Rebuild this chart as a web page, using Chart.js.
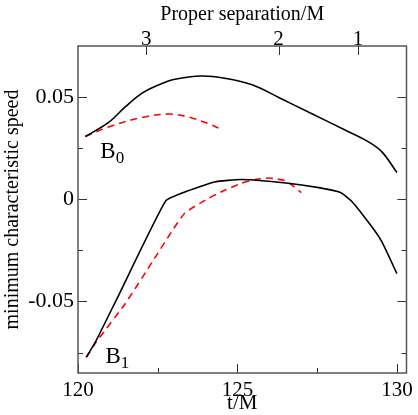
<!DOCTYPE html>
<html>
<head>
<meta charset="utf-8">
<script src="https://cdn.jsdelivr.net/npm/chart.js@4/dist/chart.umd.min.js"></script>
<style>
  html, body { margin: 0; padding: 0; background: #fff; }
  #wrap { position: relative; width: 418px; height: 415px; }
</style>
</head>
<body>
<div id="wrap"><canvas id="c" width="418" height="415"></canvas></div>
<script>
// t/M values and minimum characteristic speed
const b0SolidT = [120.23, 120.96, 121.48, 122.0, 122.52, 123.04, 123.87, 124.6, 125.48, 126.31, 127.35, 128.39, 129.11, 129.53, 130.0];
const b0SolidV = [0.0307, 0.0376, 0.0452, 0.0518, 0.0559, 0.0587, 0.0603, 0.0592, 0.0559, 0.0497, 0.0417, 0.0338, 0.0281, 0.0232, 0.0131];

const b0DashT = [120.23, 120.96, 122.0, 122.83, 123.45, 124.07, 124.49];
const b0DashV = [0.0307, 0.0354, 0.0400, 0.0417, 0.0403, 0.0371, 0.0343];

const b1SolidT = [120.26, 120.57, 121.27, 122.75, 123.35, 124.28, 125.12, 126.52, 127.55, 128.23, 128.6, 129.22, 129.53, 130.0];
const b1SolidV = [-0.0773, -0.0691, -0.0471, -0.0008, 0.0036, 0.0085, 0.0097, 0.0080, 0.0057, 0.0033, -0.0013, -0.0136, -0.0209, -0.0364];

const b1DashT = [120.26, 120.57, 121.48, 122.36, 122.93, 123.35, 124.07, 124.6, 125.12, 125.6, 126.0, 126.52, 127.0];
const b1DashV = [-0.0773, -0.0699, -0.0511, -0.0299, -0.0160, -0.0067, 0.0003, 0.0044, 0.0078, 0.0098, 0.0104, 0.0090, 0.0033];

// top axis: proper separation ticks, placed at their t/M positions
const sepLabels = ["3", "2", "1"];
const sepAtT = [122.14, 126.29, 128.78];

const xTicks = [120, 125, 130];
const xMinor = [122.5, 127.5];
const yTicks = [-0.05, 0, 0.05];
const yMinor = [-0.075, -0.025, 0.025];

const curveLabels = [
  { main: "B", sub: "0", t: 120.70, v: 0.0204 },
  { main: "B", sub: "1", t: 120.86, v: -0.0800 },
];

const toPts = (ts, vs) => ts.map((t, i) => ({ x: t, y: vs[i] }));
const serif = "'Liberation Serif', 'DejaVu Serif', serif";

// ticks pointing inward, on all four sides like the original
const innerTicks = {
  id: "innerTicks",
  afterDraw(chart) {
    const ctx = chart.ctx;
    const { x, y, x2 } = chart.scales;
    const a = chart.chartArea;
    ctx.save();
    ctx.strokeStyle = "#333";
    ctx.lineWidth = 1;
    const vtick = (px, len) => {
      ctx.beginPath();
      ctx.moveTo(px, a.bottom); ctx.lineTo(px, a.bottom - len);
      ctx.stroke();
    };
    const htick = (py, len) => {
      ctx.beginPath();
      ctx.moveTo(a.left, py); ctx.lineTo(a.left + len, py);
      ctx.moveTo(a.right, py); ctx.lineTo(a.right - len, py);
      ctx.stroke();
    };
    xTicks.forEach(v => vtick(Math.round(x.getPixelForValue(v)) + 0.5, 9));
    xMinor.forEach(v => vtick(Math.round(x.getPixelForValue(v)) + 0.5, 5));
    yTicks.forEach(v => htick(Math.round(y.getPixelForValue(v)) + 0.5, 9));
    yMinor.forEach(v => htick(Math.round(y.getPixelForValue(v)) + 0.5, 5));
    sepAtT.forEach(v => {
      const px = Math.round(x2.getPixelForValue(v)) + 0.5;
      ctx.beginPath();
      ctx.moveTo(px, a.top); ctx.lineTo(px, a.top + 9);
      ctx.stroke();
    });
    // frame
    ctx.strokeStyle = "#555";
    ctx.lineWidth = 1.5;
    ctx.strokeRect(a.left, a.top, a.right - a.left, a.bottom - a.top);

    // B0 / B1 labels
    ctx.fillStyle = "#000";
    ctx.textBaseline = "alphabetic";
    ctx.textAlign = "left";
    curveLabels.forEach(l => {
      const px = x.getPixelForValue(l.t);
      const py = y.getPixelForValue(l.v);
      ctx.font = "23px " + serif;
      ctx.fillText(l.main, px, py);
      const w = ctx.measureText(l.main).width;
      ctx.font = "17px " + serif;
      ctx.fillText(l.sub, px + w, py + 5);
    });
    ctx.restore();
  }
};

const fixSize = (prop, val) => (scale) => { scale[prop] = val; };

new Chart(document.getElementById("c"), {
  type: "line",
  data: {
    datasets: [
      { data: toPts(b0SolidT, b0SolidV), borderColor: "#000", borderWidth: 1.6, tension: 0.35 },
      { data: toPts(b0DashT, b0DashV), borderColor: "#ff0000", borderWidth: 1.6, borderDash: [7, 5], tension: 0.35 },
      { data: toPts(b1SolidT, b1SolidV), borderColor: "#000", borderWidth: 1.6, tension: 0.15 },
      { data: toPts(b1DashT, b1DashV), borderColor: "#ff0000", borderWidth: 1.6, borderDash: [7, 5], tension: 0.15 },
    ],
  },
  options: {
    responsive: false,
    animation: false,
    devicePixelRatio: 1,
    layout: { padding: { right: 9 } },
    elements: { point: { radius: 0 } },
    plugins: { legend: { display: false }, tooltip: { enabled: false } },
    scales: {
      x: {
        type: "linear", position: "bottom", min: 120, max: 130.3,
        afterBuildTicks: (s) => { s.ticks = xTicks.map(v => ({ value: v })); },
        afterFit: fixSize("height", 42),
        grid: { display: false, drawTicks: false },
        border: { display: false },
        ticks: { color: "#000", font: { family: serif, size: 21 }, padding: 5, maxRotation: 0 },
        title: { display: true, text: "t/M", color: "#000", font: { family: serif, size: 21 }, padding: { top: 0, bottom: -1 } },
      },
      x2: {
        type: "linear", position: "top", min: 120, max: 130.3,
        afterBuildTicks: (s) => { s.ticks = sepAtT.map(v => ({ value: v })); },
        afterFit: fixSize("height", 46),
        grid: { display: false, drawTicks: false },
        border: { display: false },
        ticks: {
          color: "#000", font: { family: serif, size: 21 }, padding: -6, maxRotation: 0,
          callback: (v) => sepLabels[sepAtT.indexOf(v)],
        },
        title: { display: true, text: "Proper separation/M", color: "#000", font: { family: serif, size: 20 }, padding: { top: 3, bottom: 0 } },
      },
      y: {
        type: "linear", position: "left", min: -0.085, max: 0.075,
        afterBuildTicks: (s) => { s.ticks = yTicks.map(v => ({ value: v })); },
        afterFit: fixSize("width", 78),
        grid: { display: false, drawTicks: false },
        border: { display: false },
        ticks: {
          color: "#000", font: { family: serif, size: 22 }, padding: 4,
          callback: (v) => (v === 0 ? "0" : String(v)),
        },
        title: { display: true, text: "minimum characteristic speed", color: "#000", font: { family: serif, size: 20 }, padding: { top: 1, bottom: 0 } },
      },
    },
  },
  plugins: [innerTicks],
});
</script>
</body>
</html>
